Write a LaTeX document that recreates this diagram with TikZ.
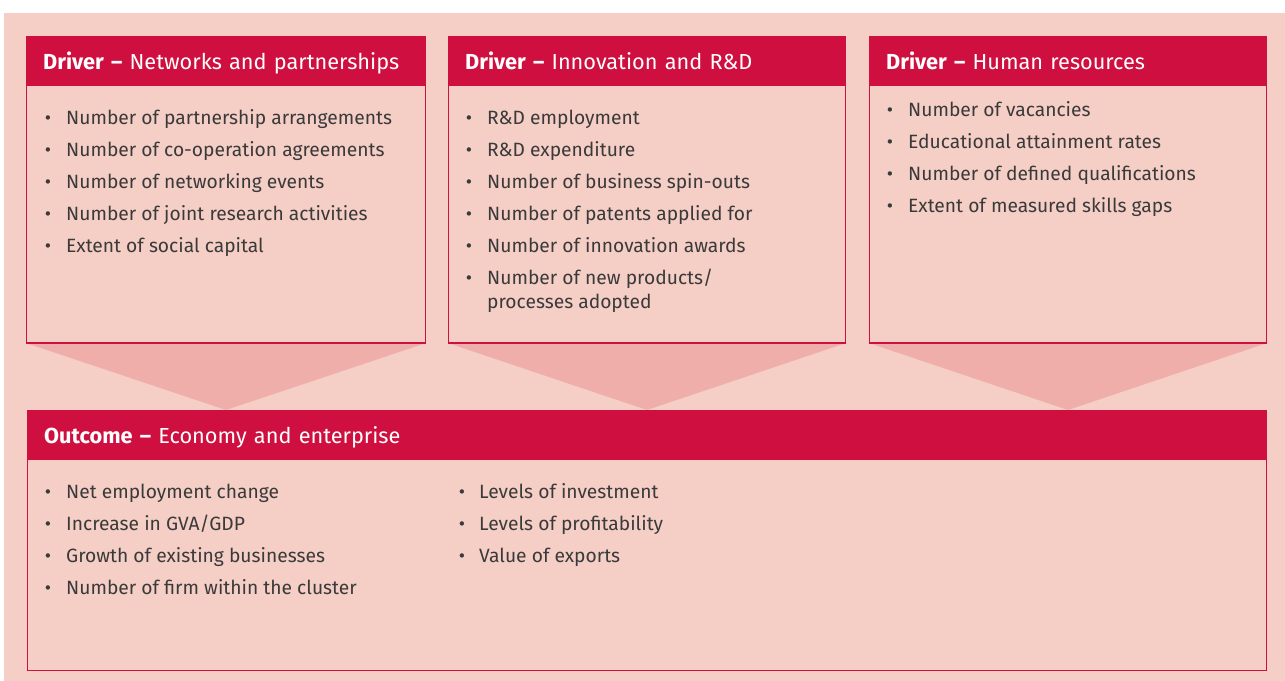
\documentclass[tikz,border=0pt]{standalone}
\usepackage{fontspec}
\setmainfont{Fira Sans}
\definecolor{cred}{HTML}{CF0F3F}
\definecolor{cbg}{HTML}{F5CEC6}
\definecolor{ctri}{HTML}{EFAEA9}
\definecolor{ctext}{HTML}{3A3A3A}
\tikzset{
  body/.style={draw=cred, line width=1bp, fill=cbg, anchor=north west, inner sep=0pt},
  head/.style={fill=cred, text=white, anchor=north west, inner xsep=17bp, inner ysep=0pt,
    minimum height=50bp, text height=16bp, text depth=0pt, align=left,
    font=\fontsize{21.8}{26}\selectfont},
  itemtext/.style={anchor=base west, inner sep=0pt, text=ctext, align=left,
    font=\fontsize{19.3}{24}\selectfont},
  bul/.style={anchor=base, inner sep=0pt, text=ctext, font=\fontsize{19.3}{24}\selectfont},
  tri/.style={fill=ctri}
}
\begin{document}
\begin{tikzpicture}[x=1bp,y=-1bp]
\useasboundingbox (0,0) rectangle (1285,681);
\fill[white] (0,0) rectangle (1285,681);
\fill[cbg] (4,13) rectangle (1285,681);
% outcome body first (for triangle apex reference)
\node[body, minimum width=1239bp, minimum height=260bp] (ob) at (27,410) {};
% driver bodies
\node[body, minimum width=399bp, minimum height=306bp] (b1) at (26,36) {};
\node[body, minimum width=397bp, minimum height=306bp] (b2) at (448,36) {};
\node[body, minimum width=397bp, minimum height=306bp] (b3) at (869,36) {};
% arrow triangles
\foreach \b in {b1,b2,b3}{
  \fill[tri] (\b.south west) -- (\b.south east) -- (\b.south |- ob.north) -- cycle;
}
% redraw bottom edges on top of triangles
\draw[cred, line width=1bp] (b1.south west) -- (b1.south east);
\draw[cred, line width=1bp] (b2.south west) -- (b2.south east);
\draw[cred, line width=1bp] (b3.south west) -- (b3.south east);
% headers
\node[head, text width=365bp] (h1) at (26,36) {\textbf{Driver –} Networks and partnerships};
\node[head, text width=363bp] (h2) at (448,36) {\textbf{Driver –} Innovation and R\&D};
\node[head, text width=363bp] (h3) at (869,36) {\textbf{Driver –} Human resources};
\node[head, text width=1205bp] (ho) at (27,410) {\textbf{Outcome –} Economy and enterprise};
% lists
\foreach \t [count=\i] in {Number of partnership arrangements, Number of co-operation agreements,
  Number of networking events, Number of joint research activities, Extent of social capital}{
  \node[bul] (p\i) at (48,{124.5+32*(\i-1)}) {•};
  \node[itemtext] (q\i) at (66,{124.5+32*(\i-1)}) {\t};
}
\foreach \t [count=\i] in {R\&D employment, R\&D expenditure, Number of business spin-outs,
  Number of patents applied for, Number of innovation awards}{
  \node[bul] (r\i) at (469,{124.5+32*(\i-1)}) {•};
  \node[itemtext] (s\i) at (487,{124.5+32*(\i-1)}) {\t};
}
\node[bul] (r6) at (469,284.5) {•};
\node[itemtext] (s6) at (487,308.5) {Number of new products/\\processes adopted};
\foreach \t [count=\i] in {Number of vacancies, Educational attainment rates,
  Number of defined qualifications, Extent of measured skills gaps}{
  \node[bul] (u\i) at (890,{116.5+32*(\i-1)}) {•};
  \node[itemtext] (v\i) at (908,{116.5+32*(\i-1)}) {\t};
}
\foreach \t [count=\i] in {Net employment change, Increase in GVA/GDP,
  Growth of existing businesses, Number of firm within the cluster}{
  \node[bul] (w\i) at (48,{498.5+32*(\i-1)}) {•};
  \node[itemtext] (x\i) at (66,{498.5+32*(\i-1)}) {\t};
}
\foreach \t [count=\i] in {Levels of investment, Levels of profitability, Value of exports}{
  \node[bul] (y\i) at (462,{498.5+32*(\i-1)}) {•};
  \node[itemtext] (z\i) at (479,{498.5+32*(\i-1)}) {\t};
}
\end{tikzpicture}
\end{document}
